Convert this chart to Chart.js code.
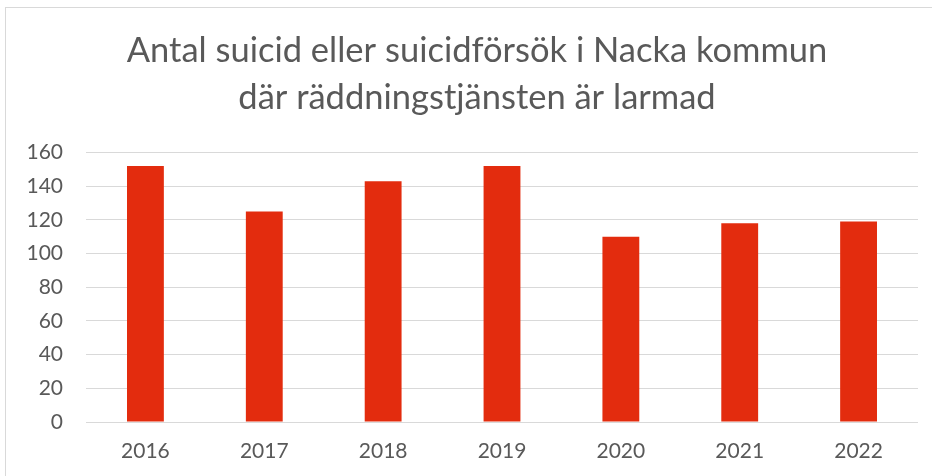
<!DOCTYPE html>
<html lang="sv">
    <head>
        <meta charset="UTF-8" />
        <title>Nacka</title>
        <script src="https://cdn.jsdelivr.net/npm/chart.js@4/dist/chart.umd.min.js"></script>
        <style>
            html, body { margin: 0; padding: 0; background: #fff; }
            #wrap { width: 932px; height: 476px; position: relative; }
        </style>
    </head>
    <body>
        <div id="wrap"><canvas id="myChart"></canvas></div>

        <script>
            const years = ["2016", "2017", "2018", "2019", "2020", "2021", "2022"];
            const antal = [152, 125, 143, 152, 110, 118, 119];
            const titleLines = [
                "Antal suicid eller suicidförsök i Nacka kommun",
                "där räddningstjänsten är larmad",
            ];

            const textColor = "#595959";
            const gridColor = "#d9d9d9";
            const fontName = "Lato, 'Open Sans', sans-serif";

            // ram runt diagrammet (som i Excel) + titeln lite åt höger
            const frame = {
                id: "frame",
                afterLayout(chart) {
                    const t = chart.titleBlock;
                    if (t) {
                        t.left += 36;
                        t.width = t.right - t.left;
                    }
                },
                beforeDraw(chart) {
                    const ctx = chart.ctx;
                    ctx.save();
                    ctx.strokeStyle = gridColor;
                    ctx.lineWidth = 1;
                    ctx.strokeRect(5.5, 7.5, 1000, 1000);
                    ctx.restore();
                },
            };

            const chart = new Chart("myChart", {
                type: "bar",
                data: {
                    labels: years,
                    datasets: [
                        {
                            data: antal,
                            backgroundColor: "#e32c0e",
                            barPercentage: 0.31,
                            categoryPercentage: 1,
                        },
                    ],
                },
                options: {
                    responsive: true,
                    maintainAspectRatio: false,
                    animation: false,
                    layout: {
                        padding: { left: 0, right: 14, top: 0, bottom: 0 },
                    },
                    plugins: {
                        legend: { display: false },
                        tooltip: { enabled: false },
                        title: {
                            display: true,
                            text: titleLines,
                            color: textColor,
                            font: { family: fontName, size: 34.5, weight: "normal", lineHeight: 1.37 },
                            padding: { top: 27, bottom: 31 },
                        },
                    },
                    scales: {
                        x: {
                            afterFit: (scale) => {
                                scale.height = 54;
                            },
                            grid: { display: false, drawTicks: false },
                            border: { display: false },
                            ticks: {
                                color: textColor,
                                font: { family: fontName, size: 21 },
                                padding: 17,
                            },
                        },
                        y: {
                            min: 0,
                            max: 160,
                            afterFit: (scale) => {
                                scale.width = 86;
                            },
                            grid: { color: gridColor, lineWidth: 1, drawTicks: false },
                            border: { display: false },
                            ticks: {
                                stepSize: 20,
                                color: textColor,
                                font: { family: fontName, size: 21 },
                                padding: 23,
                            },
                        },
                    },
                },
                plugins: [frame],
            });
        </script>
    </body>
</html>
